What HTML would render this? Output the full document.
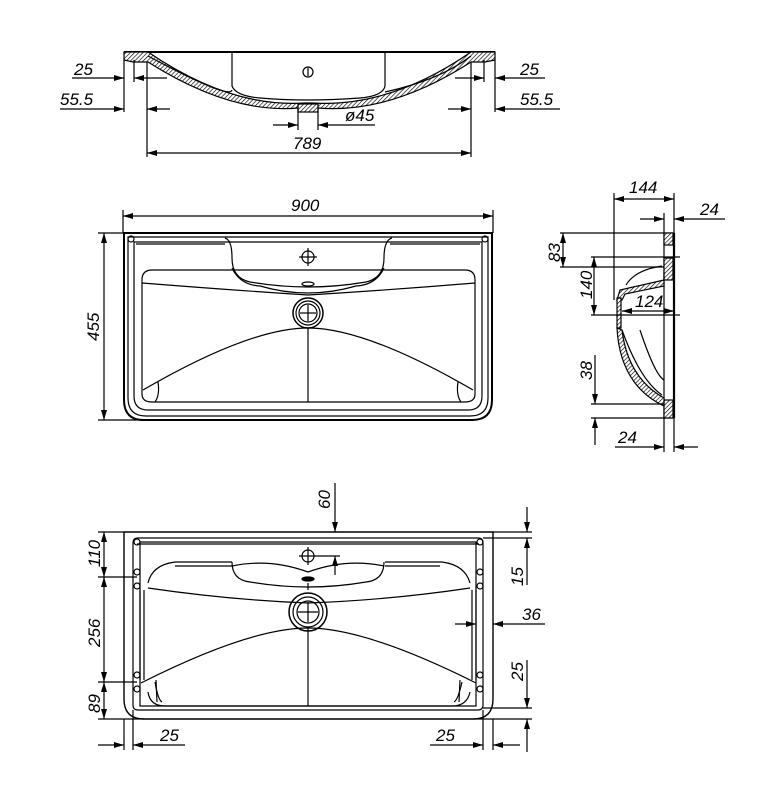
<!DOCTYPE html>
<html><head><meta charset="utf-8"><style>
html,body{margin:0;padding:0;background:#fff;}
svg{display:block;}
text{font-family:"Liberation Sans",sans-serif;font-style:italic;font-size:17px;fill:#000;}
</style></head><body>
<svg width="778" height="791" viewBox="0 0 778 791" xmlns="http://www.w3.org/2000/svg">
<defs>
<pattern id="h" width="3" height="3" patternUnits="userSpaceOnUse" patternTransform="rotate(45)">
<rect width="3" height="3" fill="#fff"/><line x1="0" y1="0" x2="0" y2="3" stroke="#000" stroke-width="1.3"/></pattern>
<marker id="a" viewBox="0 0 10 6" refX="10" refY="3" markerWidth="11" markerHeight="6" orient="auto-start-reverse" markerUnits="userSpaceOnUse">
<path d="M0,0 L10,3 L0,6z" fill="#000"/></marker>
</defs>
<g fill="none" stroke="#000" stroke-width="1.2">

<!-- ===== TOP SECTION VIEW ===== -->
<line x1="124" y1="52" x2="495" y2="52" stroke-width="2"/>
<path d="M124,52 L148,52 Q230,108 305,103 L312,103 Q390,108 471,52 L495,52 L495,60 L485,62 L471,62 Q390,114 318,108 L298,108 Q230,114 148,62 L133,62 L124,60 Z" fill="url(#h)" stroke-width="1.2"/>
<path d="M148,56 Q230,100 232,90" />
<path d="M232,52 L232,86 Q236,96 260,98 Q305,102 360,98 Q383,96 385,86 L385,52"/>
<path d="M385,92 Q440,80 471,56"/>
<circle cx="308" cy="72" r="5"/><line x1="308" y1="68" x2="308" y2="76"/>
<rect x="298" y="104" width="20" height="8" fill="url(#h)"/>
<line x1="124" y1="60" x2="124" y2="112"/><line x1="134" y1="60" x2="134" y2="82"/>
<line x1="147" y1="62" x2="147" y2="157"/>
<line x1="471" y1="62" x2="471" y2="157"/><line x1="484" y1="60" x2="484" y2="82"/><line x1="495" y1="60" x2="495" y2="112"/>
<line x1="72" y1="78" x2="124" y2="78" marker-end="url(#a)"/><line x1="167" y1="78" x2="134" y2="78" marker-end="url(#a)"/>
<line x1="60" y1="109" x2="124" y2="109" marker-end="url(#a)"/><line x1="170" y1="109" x2="147" y2="109" marker-end="url(#a)"/>
<line x1="455" y1="78" x2="484" y2="78" marker-end="url(#a)"/><line x1="545" y1="78" x2="495" y2="78" marker-end="url(#a)"/>
<line x1="448" y1="109" x2="471" y2="109" marker-end="url(#a)"/><line x1="560" y1="109" x2="495" y2="109" marker-end="url(#a)"/>
<line x1="298" y1="108" x2="298" y2="130"/><line x1="318" y1="108" x2="318" y2="130"/>
<line x1="273" y1="125" x2="298" y2="125" marker-end="url(#a)"/><line x1="375" y1="125" x2="318" y2="125" marker-end="url(#a)"/>
<line x1="147" y1="153" x2="471" y2="153" marker-start="url(#a)" marker-end="url(#a)"/>

<!-- ===== PLAN VIEW ===== -->
<line x1="123" y1="210" x2="123" y2="233"/><line x1="493" y1="210" x2="493" y2="233"/>
<line x1="123" y1="216" x2="493" y2="216" marker-start="url(#a)" marker-end="url(#a)"/>
<line x1="98" y1="233" x2="124" y2="233"/><line x1="98" y1="420" x2="140" y2="420"/>
<line x1="104" y1="233" x2="104" y2="420" marker-start="url(#a)" marker-end="url(#a)"/>
<path d="M124,233 L492,233 L492,400 Q492,420 472,420 L144,420 Q124,420 124,400 Z" stroke-width="2"/>
<path d="M128,237 L488,237 L488,398 Q488,416 470,416 L146,416 Q128,416 128,398 Z"/>
<path d="M134,242 L482,242 L482,396 Q482,410 468,410 L148,410 Q134,410 134,396 Z"/>
<line x1="136" y1="244" x2="225" y2="244"/><line x1="390" y1="244" x2="480" y2="244"/>
<path d="M225,238 Q232,240 232,258 Q232,278 250,282 Q308,292 366,282 Q384,278 384,258 Q384,240 392,238"/>
<path d="M232,268 Q240,285 260,286 Q308,300 356,286 Q376,285 384,268"/>
<path d="M152,270 L465,270 Q475,270 475,280 L475,394 Q475,402 465,402 L152,402 Q142,402 142,394 L142,280 Q142,270 152,270 Z"/>
<path d="M142,283 Q230,290 308,295 Q390,290 475,283"/>
<circle cx="308" cy="257" r="6"/><line x1="299" y1="257" x2="317" y2="257"/><line x1="308" y1="248" x2="308" y2="266"/>
<ellipse cx="308" cy="284" rx="6" ry="2"/>
<circle cx="308" cy="313" r="15" stroke-width="1.5"/><circle cx="308" cy="313" r="12"/><circle cx="308" cy="313" r="9"/>
<line x1="300" y1="313" x2="316" y2="313"/><line x1="308" y1="305" x2="308" y2="321"/>
<path d="M143,390 Q250,328 308,328 Q366,328 473,390"/>
<line x1="308" y1="328" x2="308" y2="402"/>
<path d="M158,382 Q160,395 155,402"/><path d="M458,382 Q456,395 461,402"/>
<circle cx="131" cy="239" r="3"/><circle cx="485" cy="239" r="3"/>

<!-- ===== SIDE VIEW ===== -->
<rect x="664" y="233" width="10" height="185" fill="#fff"/>
<line x1="674" y1="233" x2="674" y2="418" stroke-width="2.2"/>
<rect x="664" y="233" width="9" height="12" fill="url(#h)"/>
<rect x="664" y="258" width="9" height="22" fill="url(#h)"/>
<rect x="664" y="400" width="9" height="18" fill="url(#h)"/>
<path d="M664,272 L664,280 L620,290 L617,300 L622,300 L625,294 L664,286 Z" fill="url(#h)"/>
<path d="M662,266 Q635,270 626,285"/>
<path d="M617,298 L617,328 L621,328 L621,298 Z" fill="url(#h)"/>
<path d="M617,328 Q620,385 664,406 L664,398 Q628,378 622,330 Z" fill="url(#h)"/>
<path d="M622,330 Q640,380 662,395"/>
<path d="M640,330 Q655,375 664,380"/>
<line x1="614" y1="193" x2="614" y2="300"/>
<line x1="614" y1="199" x2="674" y2="199" marker-start="url(#a)" marker-end="url(#a)"/>
<line x1="674" y1="193" x2="674" y2="233"/><line x1="664" y1="213" x2="664" y2="233"/>
<line x1="640" y1="219" x2="664" y2="219" marker-end="url(#a)"/><line x1="725" y1="219" x2="674" y2="219" marker-end="url(#a)"/>
<line x1="560" y1="233" x2="664" y2="233"/><line x1="560" y1="267" x2="664" y2="267"/>
<line x1="563" y1="233" x2="563" y2="267" marker-start="url(#a)" marker-end="url(#a)"/>
<line x1="591" y1="257" x2="680" y2="257"/><line x1="591" y1="315" x2="680" y2="315"/>
<line x1="594" y1="257" x2="594" y2="315" marker-start="url(#a)" marker-end="url(#a)"/>
<line x1="622" y1="311" x2="674" y2="311" marker-start="url(#a)" marker-end="url(#a)"/>
<line x1="591" y1="404" x2="664" y2="404"/><line x1="591" y1="418" x2="664" y2="418"/>
<line x1="595" y1="355" x2="595" y2="404" marker-end="url(#a)"/><line x1="595" y1="445" x2="595" y2="418" marker-end="url(#a)"/>
<line x1="664" y1="418" x2="664" y2="452"/><line x1="674" y1="418" x2="674" y2="452"/>
<line x1="615" y1="447" x2="664" y2="447" marker-end="url(#a)"/><line x1="698" y1="447" x2="674" y2="447" marker-end="url(#a)"/>

<!-- ===== BOTTOM VIEW ===== -->
<path d="M124,532 L493,532 L493,699 Q493,719 473,719 L144,719 Q124,719 124,699 Z" stroke-width="1.4"/>
<path d="M138,538 L478,538 Q483,538 483,543 L483,705 Q483,710 478,710 L138,710 Q133,710 133,705 L133,543 Q133,538 138,538 Z"/>
<path d="M140,542 L476,542 L476,706 L140,706 Z"/>
<line x1="137" y1="544" x2="479" y2="544"/>
<path d="M148,583 Q152,565 175,562 L232,562"/>
<path d="M385,562 L442,562 Q465,565 470,583"/>
<path d="M175,566 L232,566 M385,566 L440,566"/>
<path d="M232,562 Q232,580 250,582 Q308,592 366,582 Q384,580 384,562"/>
<path d="M232,566 Q270,558 308,572 Q346,558 384,566"/>
<path d="M148,588 Q230,600 308,603 Q390,600 470,588"/>
<path d="M140,590 L140,680 M476,590 L476,680 M144,590 L144,680 M472,590 L472,680"/>
<path d="M148,692 Q150,706 165,706 L452,706 Q467,706 470,692"/>
<path d="M155,682 Q158,700 162,702 M462,682 Q458,700 454,702"/>
<circle cx="137" cy="542" r="3"/><circle cx="480" cy="542" r="3"/>
<circle cx="137" cy="572" r="3"/><circle cx="480" cy="572" r="3"/>
<circle cx="137" cy="586" r="3"/><circle cx="480" cy="586" r="3"/>
<circle cx="137" cy="675" r="3"/><circle cx="480" cy="675" r="3"/>
<circle cx="137" cy="689" r="3"/><circle cx="480" cy="689" r="3"/>
<circle cx="308" cy="556" r="6"/><line x1="299" y1="556" x2="340" y2="556"/><line x1="308" y1="547" x2="308" y2="565"/>
<ellipse cx="308" cy="579" rx="6" ry="2" fill="#000"/>
<line x1="308" y1="583" x2="308" y2="590"/>
<circle cx="308" cy="612" r="19" stroke-width="1.5"/><circle cx="308" cy="612" r="15"/><circle cx="308" cy="612" r="11"/>
<line x1="298" y1="612" x2="318" y2="612"/><line x1="308" y1="602" x2="308" y2="622"/>
<path d="M141,683 Q250,628 308,628 Q366,628 476,683"/>
<line x1="308" y1="628" x2="308" y2="706"/>
<path d="M156,680 L157,702 M460,680 L459,702"/>
<line x1="98" y1="532" x2="124" y2="532"/><line x1="98" y1="577" x2="137" y2="577"/>
<line x1="98" y1="682" x2="137" y2="682"/><line x1="98" y1="719" x2="144" y2="719"/>
<line x1="104" y1="532" x2="104" y2="577" marker-start="url(#a)" marker-end="url(#a)"/>
<line x1="104" y1="577" x2="104" y2="682" marker-start="url(#a)" marker-end="url(#a)"/>
<line x1="104" y1="682" x2="104" y2="719" marker-start="url(#a)" marker-end="url(#a)"/>
<line x1="335" y1="483" x2="335" y2="532" marker-end="url(#a)"/>
<line x1="335" y1="575" x2="335" y2="556" marker-end="url(#a)"/>
<line x1="493" y1="532" x2="532" y2="532"/><line x1="483" y1="538" x2="532" y2="538"/>
<line x1="527" y1="507" x2="527" y2="532" marker-end="url(#a)"/><line x1="527" y1="585" x2="527" y2="538" marker-end="url(#a)"/>
<line x1="455" y1="624" x2="476" y2="624" marker-end="url(#a)"/><line x1="545" y1="624" x2="493" y2="624" marker-end="url(#a)"/>
<line x1="483" y1="708" x2="532" y2="708"/><line x1="473" y1="719" x2="532" y2="719"/>
<line x1="527" y1="660" x2="527" y2="708" marker-end="url(#a)"/><line x1="527" y1="752" x2="527" y2="719" marker-end="url(#a)"/>
<line x1="124" y1="719" x2="124" y2="750"/><line x1="133" y1="710" x2="133" y2="750"/>
<line x1="483" y1="710" x2="483" y2="750"/><line x1="493" y1="719" x2="493" y2="750"/>
<line x1="98" y1="745" x2="124" y2="745" marker-end="url(#a)"/><line x1="185" y1="745" x2="133" y2="745" marker-end="url(#a)"/>
<line x1="430" y1="745" x2="483" y2="745" marker-end="url(#a)"/><line x1="520" y1="745" x2="493" y2="745" marker-end="url(#a)"/>
</g>

<text x="74" y="75">25</text>
<text x="60" y="105">55.5</text>
<text x="520" y="75">25</text>
<text x="520" y="105">55.5</text>
<text x="345" y="121">ø45</text>
<text x="293" y="149">789</text>
<text x="291" y="211">900</text>
<text transform="translate(99,341) rotate(-90)">455</text>
<text x="629" y="193">144</text>
<text x="700" y="215">24</text>
<text transform="translate(560,262) rotate(-90)">83</text>
<text transform="translate(592,299) rotate(-90)">140</text>
<text x="635" y="307">124</text>
<text transform="translate(592,380) rotate(-90)">38</text>
<text x="618" y="443">24</text>
<text transform="translate(100,567) rotate(-90)">110</text>
<text transform="translate(100,647) rotate(-90)">256</text>
<text transform="translate(100,713) rotate(-90)">89</text>
<text transform="translate(330,509) rotate(-90)">60</text>
<text transform="translate(523,586) rotate(-90)">15</text>
<text x="522" y="620">36</text>
<text transform="translate(523,681) rotate(-90)">25</text>
<text x="160" y="741">25</text>
<text x="436" y="741">25</text>
</svg>
</body></html>
